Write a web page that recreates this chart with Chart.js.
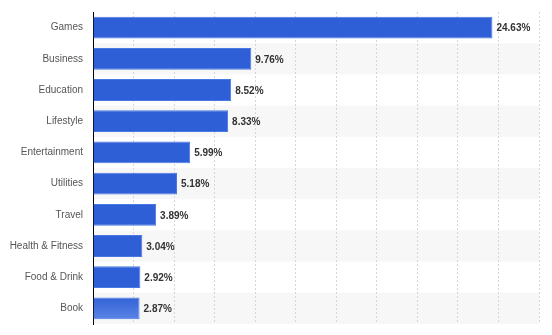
<!DOCTYPE html>
<html>
<head>
<meta charset="utf-8">
<script src="https://cdn.jsdelivr.net/npm/chart.js@4"></script>
<style>
  body { margin: 0; background: #fff; }
  #wrap { width: 552px; height: 335px; position: relative; }
</style>
</head>
<body>
<div id="wrap"><canvas id="shareChart"></canvas></div>
<script>
// категории и значения
const categories = ['Games', 'Business', 'Education', 'Lifestyle', 'Entertainment', 'Utilities', 'Travel', 'Health & Fitness', 'Food & Drink', 'Book'];
const shares = [24.63, 9.76, 8.52, 8.33, 5.99, 5.18, 3.89, 3.04, 2.92, 2.87];
const valueLabels = ['24.63%', '9.76%', '8.52%', '8.33%', '5.99%', '5.18%', '3.89%', '3.04%', '2.92%', '2.87%'];

// полосы через строку
const stripes = {
    id: 'stripes',
    beforeDraw(chart) {
        let ctx = chart.ctx;
        let y = chart.scales.y;
        let area = chart.chartArea;
        let step = (area.bottom - area.top) / categories.length;
        ctx.save();
        ctx.fillStyle = '#f7f7f7';
        for (let i = 1; i < categories.length; i += 2) {
            let c = y.getPixelForValue(i);
            ctx.fillRect(area.left, c - step / 2, area.right - area.left, step);
        }
        ctx.restore();
    }
};

// подписи значений
const barLabels = {
    id: 'barLabels',
    afterDatasetsDraw(chart) {
        let ctx = chart.ctx;
        let meta = chart.getDatasetMeta(0);
        ctx.save();
        ctx.font = 'bold 10px "Liberation Sans", Arial, sans-serif';
        ctx.fillStyle = '#333';
        ctx.textBaseline = 'middle';
        ctx.textAlign = 'left';
        meta.data.forEach(function (bar, i) {
            ctx.fillText(valueLabels[i], bar.x + 4, bar.y + 1);
        });
        ctx.restore();
    }
};

// последний столбец подсвечен градиентом
function barColor(c) {
    let chart = c.chart;
    if (c.dataIndex !== categories.length - 1 || !chart.chartArea || !chart.scales.y) {
        return '#2f5fd6';
    }
    let yc = chart.scales.y.getPixelForValue(c.dataIndex);
    let g = chart.ctx.createLinearGradient(0, yc - 11, 0, yc + 11);
    g.addColorStop(0, '#3262d7');
    g.addColorStop(1, '#5a84e4');
    return g;
}

let ctx = document.getElementById('shareChart').getContext('2d');
let shareChart = new Chart(ctx, {
    type: 'bar',
    data: {
        labels: categories,
        datasets: [{
            data: shares,
            backgroundColor: barColor,
            borderColor: '#4a78e2',
            borderWidth: 1,
            borderSkipped: 'left',
            categoryPercentage: 1,
            barPercentage: 0.7
        }]
    },
    options: {
        indexAxis: 'y',
        responsive: true,
        maintainAspectRatio: false,
        devicePixelRatio: 1,
        animation: false,
        layout: { padding: { top: 12, right: 13, bottom: 11, left: 0 } },
        plugins: {
            legend: { display: false },
            tooltip: { enabled: false }
        },
        scales: {
            x: {
                min: 0,
                max: 27.5,
                afterFit(scale) {
                    scale.height = 0;
                    scale.paddingLeft = 0;
                    scale.paddingRight = 0;
                },
                ticks: { display: false, stepSize: 2.5 },
                grid: {
                    color: '#d6d6d6',
                    drawTicks: false,
                    tickLength: 0
                },
                border: { display: false, dash: [2, 2] }
            },
            y: {
                afterFit(scale) {
                    scale.width = 93;
                    scale.paddingTop = 0;
                    scale.paddingBottom = 0;
                },
                ticks: {
                    color: '#555',
                    font: { family: '"Liberation Sans", Arial, sans-serif', size: 10 },
                    padding: 10
                },
                grid: { display: false, drawTicks: false },
                border: { display: true, color: '#000', width: 1 }
            }
        }
    },
    plugins: [stripes, barLabels]
});
</script>
</body>
</html>
